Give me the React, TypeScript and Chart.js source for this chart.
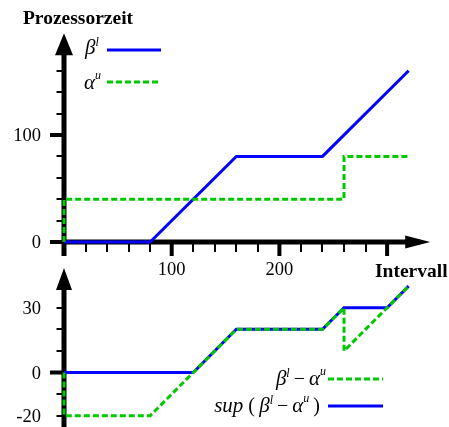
import { useEffect, useRef } from "react";
import { Chart, registerables } from "chart.js";

Chart.register(...registerables);

// Lower service curve β^l
const betaLX = [0, 80, 160, 240, 320];
const betaLY = [0, 0, 80, 80, 160];
// Upper arrival curve α^u (staircase)
const alphaUX = [0, 0, 260, 260, 320];
const alphaUY = [0, 40, 40, 80, 80];
// Difference β^l − α^u
const diffX = [0, 0, 80, 160, 240, 260, 260, 320];
const diffY = [0, -20, -20, 20, 20, 30, 10, 40];
// Running supremum sup(β^l − α^u)
const supX = [0, 120, 160, 240, 260, 300, 320];
const supY = [0, 0, 20, 20, 30, 30, 40];

// Axis ticks and labels
const xMajorTicks = [0, 100, 200, 300];
const xMinorTicks = [20, 40, 60, 80, 120, 140, 160, 180, 220, 240, 260, 280];
const xTickLabels = [100, 200];
const topYMajorTicks = [0, 100];
const topYMinorTicks = [20, 40, 60, 80, 120, 140, 160];
const topYTickLabels = [0, 100];
const bottomYMajorTicks = [0];
const bottomYMinorTicks = [-20, -10, 10, 20, 30];
const bottomYTickLabels = [30, 0, -20];

// Axis extents (in data units), arrow tips
const X_AXIS_END = 340;
const TOP_Y_AXIS_END = 195;
const BOTTOM_Y_AXIS_END = 48.4;

// Canvas layout
const W = 449;
const H = 427;
const ORIGIN_X = 64;
const X_PX = 1.077;
const TOP_ZERO = 242;
const TOP_PX = 1.07;
const BOT_ZERO = 372.5;
const BOT_PX = 2.16;

const BLUE = "#0000ff";
const GREEN = "#00c800";
const SERIF = '"Liberation Serif", "Times New Roman", serif';

const pts = (xs: number[], ys: number[]) => xs.map((x, i) => ({ x, y: ys[i] }));

type Seg = { t: string; font: string; dy?: number };

function drawRich(ctx: CanvasRenderingContext2D, segs: Seg[], x: number, y: number, align: "left" | "right") {
  let total = 0;
  for (const s of segs) {
    ctx.font = s.font;
    total += ctx.measureText(s.t).width;
  }
  let cx = align === "left" ? x : x - total;
  ctx.textAlign = "left";
  ctx.textBaseline = "alphabetic";
  for (const s of segs) {
    ctx.font = s.font;
    ctx.fillText(s.t, cx, y + (s.dy || 0));
    cx += ctx.measureText(s.t).width;
  }
}

function legendLine(ctx: CanvasRenderingContext2D, x1: number, x2: number, y: number, color: string, dashed: boolean) {
  ctx.save();
  ctx.strokeStyle = color;
  ctx.lineWidth = 3;
  ctx.setLineDash(dashed ? [6, 3] : []);
  ctx.beginPath();
  ctx.moveTo(x1, y);
  ctx.lineTo(x2, y);
  ctx.stroke();
  ctx.restore();
}

const axesPlugin = {
  id: "arrowAxes",
  beforeDatasetsDraw(chart: any) {
    const ctx: CanvasRenderingContext2D = chart.ctx;
    const sx = chart.scales.x;
    const yT = chart.scales.yT;
    const yB = chart.scales.yB;
    const x0 = sx.getPixelForValue(0);
    const t0 = yT.getPixelForValue(0);

    ctx.save();
    ctx.fillStyle = "#000";
    ctx.strokeStyle = "#000";
    ctx.lineCap = "butt";

    // top y axis with arrow
    const tTip = yT.getPixelForValue(TOP_Y_AXIS_END);
    ctx.lineWidth = 5;
    ctx.beginPath();
    ctx.moveTo(x0, t0 + 14);
    ctx.lineTo(x0, tTip + 12);
    ctx.stroke();
    ctx.beginPath();
    ctx.moveTo(x0, tTip);
    ctx.lineTo(x0 - 9, tTip + 22);
    ctx.lineTo(x0 + 9, tTip + 22);
    ctx.closePath();
    ctx.fill();

    // x axis with arrow
    const xTip = sx.getPixelForValue(X_AXIS_END);
    ctx.beginPath();
    ctx.moveTo(x0 - 2, t0);
    ctx.lineTo(xTip - 10, t0);
    ctx.stroke();
    ctx.beginPath();
    ctx.moveTo(xTip, t0);
    ctx.lineTo(xTip - 25, t0 - 6.5);
    ctx.lineTo(xTip - 25, t0 + 6.5);
    ctx.closePath();
    ctx.fill();

    // x ticks
    ctx.lineWidth = 2;
    for (const v of xMinorTicks) {
      const p = Math.round(sx.getPixelForValue(v));
      ctx.beginPath();
      ctx.moveTo(p, t0);
      ctx.lineTo(p, t0 + 10);
      ctx.stroke();
    }
    ctx.lineWidth = 4;
    for (const v of xMajorTicks) {
      const p = sx.getPixelForValue(v);
      ctx.beginPath();
      ctx.moveTo(p, t0);
      ctx.lineTo(p, t0 + 14);
      ctx.stroke();
    }

    // top y ticks
    ctx.lineWidth = 2;
    for (const v of topYMinorTicks) {
      const p = Math.round(yT.getPixelForValue(v));
      ctx.beginPath();
      ctx.moveTo(x0, p);
      ctx.lineTo(x0 - 7.5, p);
      ctx.stroke();
    }
    ctx.lineWidth = 4;
    for (const v of topYMajorTicks) {
      const p = yT.getPixelForValue(v);
      ctx.beginPath();
      ctx.moveTo(x0, p);
      ctx.lineTo(x0 - 14, p);
      ctx.stroke();
    }

    // bottom y axis with arrow
    const bTip = yB.getPixelForValue(BOTTOM_Y_AXIS_END);
    ctx.lineWidth = 5;
    ctx.beginPath();
    ctx.moveTo(x0, H);
    ctx.lineTo(x0, bTip + 12);
    ctx.stroke();
    ctx.beginPath();
    ctx.moveTo(x0, bTip);
    ctx.lineTo(x0 - 8, bTip + 22);
    ctx.lineTo(x0 + 8, bTip + 22);
    ctx.closePath();
    ctx.fill();

    ctx.lineWidth = 2;
    for (const v of bottomYMinorTicks) {
      const p = Math.round(yB.getPixelForValue(v));
      ctx.beginPath();
      ctx.moveTo(x0, p);
      ctx.lineTo(x0 - 7.5, p);
      ctx.stroke();
    }
    ctx.lineWidth = 4;
    for (const v of bottomYMajorTicks) {
      const p = yB.getPixelForValue(v);
      ctx.beginPath();
      ctx.moveTo(x0, p);
      ctx.lineTo(x0 - 14, p);
      ctx.stroke();
    }
    ctx.restore();
  },
  afterDatasetsDraw(chart: any) {
    const ctx: CanvasRenderingContext2D = chart.ctx;
    const sx = chart.scales.x;
    const yT = chart.scales.yT;
    const yB = chart.scales.yB;
    const t0 = yT.getPixelForValue(0);

    ctx.save();
    ctx.fillStyle = "#000";

    // axis titles
    ctx.font = `bold 19.5px ${SERIF}`;
    ctx.textAlign = "center";
    ctx.textBaseline = "alphabetic";
    ctx.fillText("Prozessorzeit", 78, 24);
    ctx.textAlign = "left";
    ctx.fillText("Intervall", 375, t0 + 35);

    // tick labels
    ctx.font = `18.5px ${SERIF}`;
    ctx.textAlign = "center";
    for (const v of xTickLabels) {
      ctx.fillText(String(v), sx.getPixelForValue(v), t0 + 33);
    }
    ctx.textAlign = "right";
    for (const v of topYTickLabels) {
      ctx.fillText(String(v), 41, yT.getPixelForValue(v) + 6);
    }
    for (const v of bottomYTickLabels) {
      ctx.fillText(String(v), 41, yB.getPixelForValue(v) + 6);
    }

    // legends
    const it = `italic 21px ${SERIF}`;
    const sup = `italic 12px ${SERIF}`;
    const rm = `20px ${SERIF}`;
    drawRich(ctx, [{ t: "β", font: it }, { t: "l", font: sup, dy: -8 }], 85, 54, "left");
    legendLine(ctx, 107, 161, 50, BLUE, false);
    drawRich(ctx, [{ t: "α", font: it }, { t: "u", font: sup, dy: -10 }], 84, 89, "left");
    legendLine(ctx, 107, 161, 82, GREEN, true);

    drawRich(
      ctx,
      [
        { t: "β", font: it },
        { t: "l", font: sup, dy: -8 },
        { t: "\u2009\u2212\u2009", font: rm },
        { t: "α", font: it },
        { t: "u", font: sup, dy: -10 },
      ],
      326,
      385,
      "right"
    );
    legendLine(ctx, 328, 383, 379, GREEN, true);
    drawRich(
      ctx,
      [
        { t: "sup", font: it },
        { t: " (", font: rm },
        { t: "\u2009β", font: it },
        { t: "l", font: sup, dy: -8 },
        { t: "\u2009\u2212\u2009", font: rm },
        { t: "α", font: it },
        { t: "u", font: sup, dy: -10 },
        { t: "\u2009)", font: rm },
      ],
      320,
      412,
      "right"
    );
    legendLine(ctx, 328, 383, 406, BLUE, false);
    ctx.restore();
  },
};

export default function App() {
  const ref = useRef<HTMLCanvasElement | null>(null);

  useEffect(() => {
    if (!ref.current) return;
    const line = { borderWidth: 3, pointRadius: 0, tension: 0, fill: false, xAxisID: "x" };
    const chart = new Chart(ref.current, {
      type: "line",
      data: {
        datasets: [
          { ...line, label: "β^l − α^u", data: pts(diffX, diffY), yAxisID: "yB", borderColor: GREEN, borderDash: [6, 3] },
          { ...line, label: "sup(β^l − α^u)", data: pts(supX, supY), yAxisID: "yB", borderColor: BLUE },
          { ...line, label: "α^u", data: pts(alphaUX, alphaUY), yAxisID: "yT", borderColor: GREEN, borderDash: [6, 3] },
          { ...line, label: "β^l", data: pts(betaLX, betaLY), yAxisID: "yT", borderColor: BLUE },
        ],
      },
      options: {
        responsive: false,
        animation: false,
        layout: { padding: 0 },
        plugins: { legend: { display: false }, tooltip: { enabled: false } },
        scales: {
          x: { type: "linear", display: false, min: -ORIGIN_X / X_PX, max: (W - ORIGIN_X) / X_PX },
          yT: { type: "linear", display: false, min: (TOP_ZERO - H) / TOP_PX, max: TOP_ZERO / TOP_PX },
          yB: { type: "linear", display: false, min: (BOT_ZERO - H) / BOT_PX, max: BOT_ZERO / BOT_PX },
        },
      },
      plugins: [axesPlugin],
    } as any);
    return () => chart.destroy();
  }, []);

  return (
    <div style={{ position: "fixed", left: 0, top: 0, width: W, height: H, background: "#fff" }}>
      <canvas ref={ref} width={W} height={H} style={{ width: W, height: H, display: "block" }} />
    </div>
  );
}
